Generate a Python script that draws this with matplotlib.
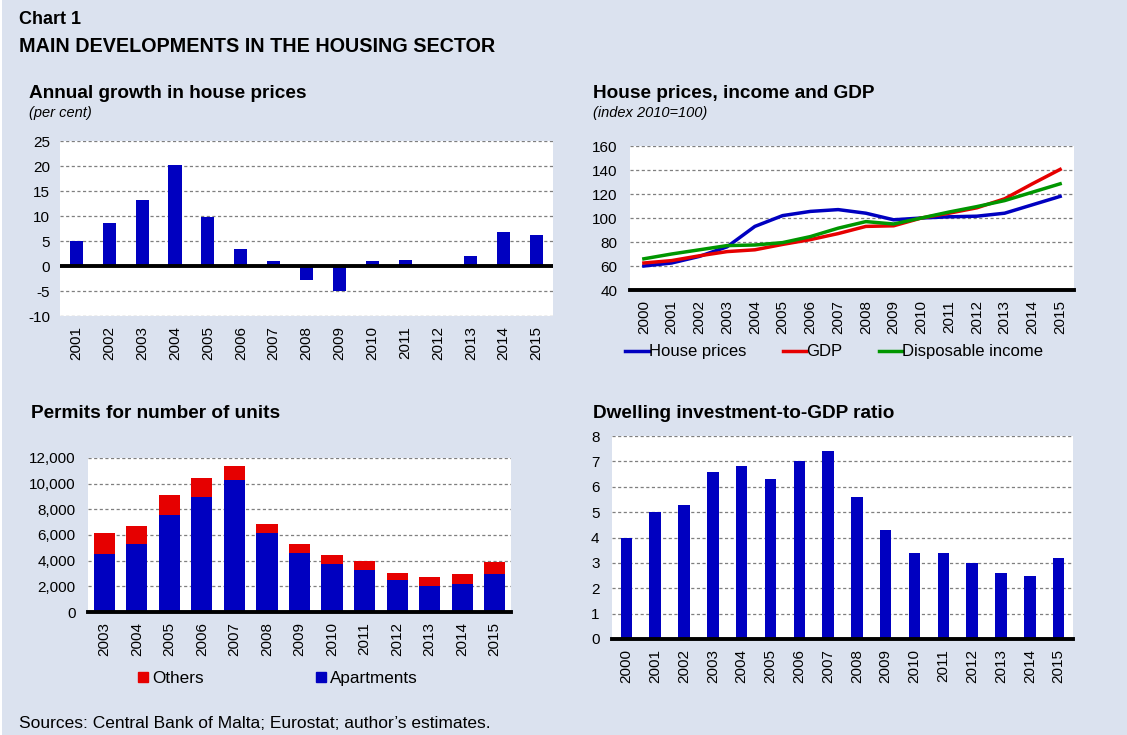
import matplotlib
matplotlib.use('Agg')
from matplotlib import pyplot as plt
from matplotlib.patches import Patch
import numpy as np

plt.rcParams['font.family'] = ['Liberation Sans', 'DejaVu Sans']
plt.rcParams['axes.unicode_minus'] = False

BG = '#dbe2ef'
BLUE = '#0000c0'
RED = '#e60000'
GREEN = '#009600'
GRID = '#7f7f7f'

# annual growth in house prices (per cent)
growth_years = [str(y) for y in range(2001, 2016)]
growth = [5.0, 8.7, 13.3, 20.3, 9.8, 3.5, 1.0, -2.8, -5.0, 1.0, 1.2, 0.3, 2.0, 6.9, 6.3]

# house prices, income and GDP (index 2010=100)
index_years = [str(y) for y in range(2000, 2016)]
house_prices = [60, 62.5, 68, 76, 93, 102, 105.5, 107, 104, 98.5, 100, 101, 101.5, 104, 111, 118]
gdp = [62.5, 64.5, 68.5, 72, 73.5, 78, 82, 87, 93, 93.5, 100, 104, 108.5, 116, 128.5, 140.5]
disp_income = [66, 70, 73.5, 77, 77.5, 79.5, 84.5, 91.5, 97, 95, 100, 105, 109.5, 114.5, 121.5, 128.5]

# permits for number of units
permit_years = [str(y) for y in range(2003, 2016)]
apartments = [4550, 5270, 7540, 8950, 10280, 6180, 4620, 3730, 3260, 2480, 2060, 2220, 3000]
permits_total = [6130, 6700, 9080, 10410, 11350, 6840, 5300, 4440, 3940, 3050, 2690, 2950, 3910]
others = [t - a for t, a in zip(permits_total, apartments)]

# dwelling investment-to-GDP ratio
ratio_years = [str(y) for y in range(2000, 2016)]
dwelling_ratio = [4.0, 5.0, 5.3, 6.6, 6.8, 6.3, 7.0, 7.4, 5.6, 4.3, 3.4, 3.4, 3.0, 2.6, 2.5, 3.2]

TICK_FS = 11
TITLE_FS = 13.7


def style_axes(ax, bottom_line=True, ypad=9):
    ax.set_facecolor('white')
    for side in ['left', 'right', 'top']:
        ax.spines[side].set_visible(False)
    if bottom_line:
        ax.spines['bottom'].set_linewidth(2.8)
        ax.spines['bottom'].set_color('black')
    else:
        ax.spines['bottom'].set_visible(False)
    ax.yaxis.grid(True, linestyle=(0, (2.5, 2)), color=GRID, linewidth=0.9)
    ax.set_axisbelow(True)
    ax.tick_params(axis='both', length=0, labelsize=TICK_FS, colors='black')
    ax.tick_params(axis='y', pad=ypad)
    ax.tick_params(axis='x', rotation=90, pad=7)


fig = plt.figure(figsize=(11.27, 7.35), dpi=100, facecolor=BG)
fig.patches.append(plt.Rectangle((0, 0), 2 / 1127, 1, transform=fig.transFigure,
                                 facecolor='white', edgecolor='none', zorder=-1))

fig.text(19 / 1127, 1 - 20 / 735, 'Chart 1', fontsize=13, fontweight='bold', va='center')
fig.text(19 / 1127, 1 - 47 / 735, 'MAIN DEVELOPMENTS IN THE HOUSING SECTOR', fontsize=14.2,
         fontweight='bold', va='center')

# top left
ax1 = fig.add_axes([60 / 1127, 1 - 316 / 735, 493 / 1127, 175 / 735])
x = np.arange(len(growth_years))
ax1.bar(x, growth, width=0.4, color=BLUE, zorder=2)
ax1.axhline(0, color='black', linewidth=2.8, zorder=3)
ax1.set_xlim(-0.5, len(growth_years) - 0.5)
ax1.set_ylim(-10, 25)
ax1.set_yticks(range(-10, 26, 5))
ax1.set_xticks(x)
ax1.set_xticklabels(growth_years)
style_axes(ax1, bottom_line=False, ypad=7)
fig.text(29 / 1127, 1 - 93 / 735, 'Annual growth in house prices', fontsize=TITLE_FS,
         fontweight='bold', va='center')
fig.text(29 / 1127, 1 - 113 / 735, '(per cent)', fontsize=10.5, style='italic', va='center')

# top right
ax2 = fig.add_axes([630 / 1127, 1 - 290 / 735, 444 / 1127, 144 / 735])
x = np.arange(len(index_years))
ax2.plot(x, house_prices, color=BLUE, linewidth=2.5, label='House prices')
ax2.plot(x, gdp, color=RED, linewidth=2.5, label='GDP')
ax2.plot(x, disp_income, color=GREEN, linewidth=2.5, label='Disposable income')
ax2.set_xlim(-0.5, len(index_years) - 0.5)
ax2.set_ylim(40, 160)
ax2.set_yticks(range(40, 161, 20))
ax2.set_xticks(x)
ax2.set_xticklabels(index_years)
style_axes(ax2)
ax2.legend(loc='center', bbox_to_anchor=(0.46, -0.43), ncol=3, frameon=False, fontsize=12,
           handlelength=1.4, handletextpad=0.0, columnspacing=2.2)
fig.text(593 / 1127, 1 - 93 / 735, 'House prices, income and GDP', fontsize=TITLE_FS,
         fontweight='bold', va='center')
fig.text(593 / 1127, 1 - 113 / 735, '(index 2010=100)', fontsize=10.5, style='italic', va='center')

# bottom left
ax3 = fig.add_axes([88 / 1127, 1 - 612 / 735, 423 / 1127, 154 / 735])
x = np.arange(len(permit_years))
ax3.bar(x, apartments, width=0.65, color=BLUE, zorder=2)
ax3.bar(x, others, bottom=apartments, width=0.65, color=RED, zorder=2)
ax3.set_xlim(-0.5, len(permit_years) - 0.5)
ax3.set_ylim(0, 12000)
ax3.set_yticks(range(0, 12001, 2000))
ax3.set_yticklabels([f'{v:,}' for v in range(0, 12001, 2000)])
ax3.set_xticks(x)
ax3.set_xticklabels(permit_years)
style_axes(ax3)
handles = [Patch(color=RED, label='Others'), Patch(color=BLUE, label='Apartments')]
ax3.legend(handles=handles, loc='center', bbox_to_anchor=(0.449, -0.43), ncol=2, frameon=False,
           fontsize=12.3, handlelength=0.55, handleheight=0.55, handletextpad=0.25,
           columnspacing=6.6)
fig.text(31 / 1127, 1 - 413 / 735, 'Permits for number of units', fontsize=TITLE_FS,
         fontweight='bold', va='center')

# bottom right
ax4 = fig.add_axes([612 / 1127, 1 - 639 / 735, 461 / 1127, 203 / 735])
x = np.arange(len(ratio_years))
ax4.bar(x, dwelling_ratio, width=0.4, color=BLUE, zorder=2)
ax4.set_xlim(-0.5, len(ratio_years) - 0.5)
ax4.set_ylim(0, 8)
ax4.set_yticks(range(0, 9))
ax4.set_xticks(x)
ax4.set_xticklabels(ratio_years)
style_axes(ax4)
fig.text(593 / 1127, 1 - 413 / 735, 'Dwelling investment-to-GDP ratio', fontsize=TITLE_FS,
         fontweight='bold', va='center')

fig.text(19 / 1127, 1 - 723 / 735, 'Sources: Central Bank of Malta; Eurostat; author\u2019s estimates.',
         fontsize=12.5, va='center')

fig.savefig('out.png', dpi=100, facecolor=BG)
